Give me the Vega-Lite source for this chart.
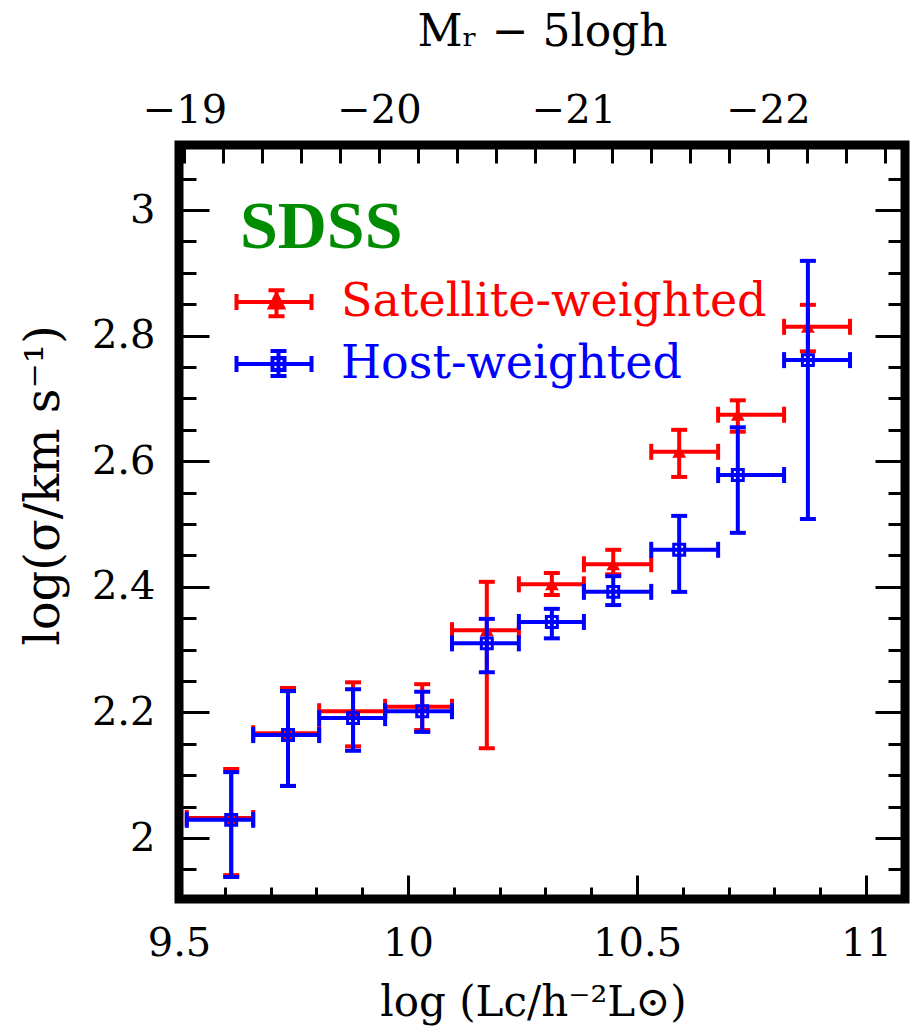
{
  "$schema": "https://vega.github.io/schema/vega-lite/v6.json",
  "autosize": {"type": "none"},
  "padding": {"left": 179, "top": 145, "right": 7, "bottom": 133},
  "width": 726,
  "height": 754,
  "background": "white",
  "datasets": {
    "sigma": [
      {"series": "Satellite-weighted", "logL": 9.614, "logL_lo": 9.517, "logL_hi": 9.662, "logsigma": 2.032, "logsigma_lo": 1.941, "logsigma_hi": 2.110},
      {"series": "Satellite-weighted", "logL": 9.738, "logL_lo": 9.662, "logL_hi": 9.806, "logsigma": 2.167, "logsigma_lo": 2.083, "logsigma_hi": 2.239},
      {"series": "Satellite-weighted", "logL": 9.880, "logL_lo": 9.806, "logL_hi": 9.950, "logsigma": 2.202, "logsigma_lo": 2.146, "logsigma_hi": 2.248},
      {"series": "Satellite-weighted", "logL": 10.031, "logL_lo": 9.950, "logL_hi": 10.096, "logsigma": 2.209, "logsigma_lo": 2.172, "logsigma_hi": 2.245},
      {"series": "Satellite-weighted", "logL": 10.172, "logL_lo": 10.096, "logL_hi": 10.242, "logsigma": 2.331, "logsigma_lo": 2.143, "logsigma_hi": 2.408},
      {"series": "Satellite-weighted", "logL": 10.314, "logL_lo": 10.242, "logL_hi": 10.384, "logsigma": 2.404, "logsigma_lo": 2.387, "logsigma_hi": 2.422},
      {"series": "Satellite-weighted", "logL": 10.448, "logL_lo": 10.384, "logL_hi": 10.531, "logsigma": 2.436, "logsigma_lo": 2.420, "logsigma_hi": 2.459},
      {"series": "Satellite-weighted", "logL": 10.592, "logL_lo": 10.531, "logL_hi": 10.677, "logsigma": 2.615, "logsigma_lo": 2.575, "logsigma_hi": 2.650},
      {"series": "Satellite-weighted", "logL": 10.720, "logL_lo": 10.677, "logL_hi": 10.821, "logsigma": 2.674, "logsigma_lo": 2.647, "logsigma_hi": 2.697},
      {"series": "Satellite-weighted", "logL": 10.873, "logL_lo": 10.821, "logL_hi": 10.965, "logsigma": 2.814, "logsigma_lo": 2.775, "logsigma_hi": 2.849},
      {"series": "Host-weighted", "logL": 9.614, "logL_lo": 9.517, "logL_hi": 9.662, "logsigma": 2.029, "logsigma_lo": 1.938, "logsigma_hi": 2.105},
      {"series": "Host-weighted", "logL": 9.738, "logL_lo": 9.662, "logL_hi": 9.806, "logsigma": 2.164, "logsigma_lo": 2.083, "logsigma_hi": 2.234},
      {"series": "Host-weighted", "logL": 9.880, "logL_lo": 9.806, "logL_hi": 9.950, "logsigma": 2.191, "logsigma_lo": 2.139, "logsigma_hi": 2.237},
      {"series": "Host-weighted", "logL": 10.031, "logL_lo": 9.950, "logL_hi": 10.096, "logsigma": 2.202, "logsigma_lo": 2.169, "logsigma_hi": 2.233},
      {"series": "Host-weighted", "logL": 10.172, "logL_lo": 10.096, "logL_hi": 10.242, "logsigma": 2.310, "logsigma_lo": 2.264, "logsigma_hi": 2.349},
      {"series": "Host-weighted", "logL": 10.314, "logL_lo": 10.242, "logL_hi": 10.384, "logsigma": 2.344, "logsigma_lo": 2.318, "logsigma_hi": 2.365},
      {"series": "Host-weighted", "logL": 10.448, "logL_lo": 10.384, "logL_hi": 10.531, "logsigma": 2.392, "logsigma_lo": 2.371, "logsigma_hi": 2.417},
      {"series": "Host-weighted", "logL": 10.592, "logL_lo": 10.531, "logL_hi": 10.677, "logsigma": 2.459, "logsigma_lo": 2.392, "logsigma_hi": 2.513},
      {"series": "Host-weighted", "logL": 10.720, "logL_lo": 10.677, "logL_hi": 10.821, "logsigma": 2.578, "logsigma_lo": 2.486, "logsigma_hi": 2.654},
      {"series": "Host-weighted", "logL": 10.873, "logL_lo": 10.821, "logL_hi": 10.965, "logsigma": 2.761, "logsigma_lo": 2.508, "logsigma_hi": 2.919}
    ],
    "mag": [{"Mr": -19}, {"Mr": -22}],
    "legend": [{"series": "Satellite-weighted"}, {"series": "Host-weighted"}],
    "note": [{"label": "SDSS"}]
  },
  "config": {
    "font": "DejaVu Serif",
    "view": {"stroke": "black", "strokeWidth": 9},
    "tick": {"opacity": 1},
    "rule": {"opacity": 1},
    "axis": {
      "domain": false, "grid": false,
      "labelFont": "DejaVu Serif", "labelFontSize": 40, "labelColor": "black",
      "labelFlush": false, "labelOverlap": false, "format": "~g",
      "titleFont": "DejaVu Serif", "titleFontWeight": "normal", "titleColor": "black",
      "tickColor": "black", "tickWidth": 3
    }
  },
  "resolve": {"scale": {"x": "independent", "y": "independent"}, "axis": {"x": "independent", "y": "independent"}},
  "layer": [
    {
      "data": {"name": "sigma"},
      "transform": [{"filter": "datum.series === 'Satellite-weighted'"}],
      "mark": {"type": "rule", "color": "#ff0000", "strokeWidth": 4},
      "encoding": {
        "x": {"field": "logL_lo", "type": "quantitative", "scale": {"domain": [9.5, 11.085], "nice": false, "zero": false},
              "axis": {"orient": "bottom", "values": [9.5, 10, 10.5, 11], "ticks": false, "labelPadding": 56, "labelBaseline": "alphabetic",
                       "title": "log (Lc/h⁻²L⊙)", "titleFontSize": 42, "titleBaseline": "alphabetic", "titleY": 116, "titleX": 354}},
        "x2": {"field": "logL_hi"},
        "y": {"field": "logsigma", "type": "quantitative", "scale": {"domain": [1.903, 3.1035], "nice": false, "zero": false},
              "axis": {"orient": "left", "values": [2, 2.2, 2.4, 2.6, 2.8, 3], "ticks": false, "labelPadding": 24,
                       "title": "log(σ/km s⁻¹)", "titleFontSize": 48, "titleAngle": -90, "titleAlign": "center", "titleBaseline": "alphabetic", "titleX": -121, "titleY": 340}}
      }
    },
    {
      "data": {"name": "sigma"},
      "transform": [{"filter": "datum.series === 'Satellite-weighted'"}],
      "mark": {"type": "rule", "color": "#ff0000", "strokeWidth": 4},
      "encoding": {
        "x": {"field": "logL", "type": "quantitative", "scale": {"domain": [9.5, 11.085], "nice": false, "zero": false},
              "axis": {"orient": "bottom", "values": [9.5, 10, 10.5, 11], "labels": false, "tickSize": -24, "title": null}},
        "y": {"field": "logsigma_lo", "type": "quantitative", "scale": {"domain": [1.903, 3.1035], "nice": false, "zero": false},
              "axis": {"orient": "left", "values": [2, 2.2, 2.4, 2.6, 2.8, 3], "labels": false, "tickSize": -30, "title": null}},
        "y2": {"field": "logsigma_hi"}
      }
    },
    {
      "data": {"name": "sigma"},
      "transform": [{"filter": "datum.series === 'Satellite-weighted'"}],
      "mark": {"type": "tick", "orient": "vertical", "color": "#ff0000", "size": 16, "thickness": 4, "opacity": 1},
      "encoding": {
        "x": {"field": "logL_lo", "type": "quantitative", "scale": {"domain": [9.5, 11.085], "nice": false, "zero": false},
              "axis": {"orient": "bottom", "values": [9.6, 9.7, 9.8, 9.9, 10.1, 10.2, 10.3, 10.4, 10.6, 10.7, 10.8, 10.9], "labels": false, "tickSize": -12, "title": null}},
        "y": {"field": "logsigma", "type": "quantitative", "scale": {"domain": [1.903, 3.1035], "nice": false, "zero": false},
              "axis": {"orient": "left", "values": [1.95, 2, 2.05, 2.1, 2.15, 2.2, 2.25, 2.3, 2.35, 2.4, 2.45, 2.5, 2.55, 2.6, 2.65, 2.7, 2.75, 2.8, 2.85, 2.9, 2.95, 3, 3.05, 3.1], "labels": false, "tickSize": -17, "title": null}}
      }
    },
    {
      "data": {"name": "sigma"},
      "transform": [{"filter": "datum.series === 'Satellite-weighted'"}],
      "mark": {"type": "tick", "orient": "vertical", "color": "#ff0000", "size": 16, "thickness": 4, "opacity": 1},
      "encoding": {
        "x": {"field": "logL_hi", "type": "quantitative", "scale": {"domain": [9.5, 11.085], "nice": false, "zero": false}, "axis": null},
        "y": {"field": "logsigma", "type": "quantitative", "scale": {"domain": [1.903, 3.1035], "nice": false, "zero": false},
              "axis": {"orient": "right", "values": [2, 2.2, 2.4, 2.6, 2.8, 3], "labels": false, "tickSize": -30, "title": null}}
      }
    },
    {
      "data": {"name": "sigma"},
      "transform": [{"filter": "datum.series === 'Satellite-weighted'"}],
      "mark": {"type": "tick", "orient": "horizontal", "color": "#ff0000", "size": 16, "thickness": 4, "opacity": 1},
      "encoding": {
        "x": {"field": "logL", "type": "quantitative", "scale": {"domain": [9.5, 11.085], "nice": false, "zero": false}, "axis": null},
        "y": {"field": "logsigma_lo", "type": "quantitative", "scale": {"domain": [1.903, 3.1035], "nice": false, "zero": false},
              "axis": {"orient": "right", "values": [1.95, 2, 2.05, 2.1, 2.15, 2.2, 2.25, 2.3, 2.35, 2.4, 2.45, 2.5, 2.55, 2.6, 2.65, 2.7, 2.75, 2.8, 2.85, 2.9, 2.95, 3, 3.05, 3.1], "labels": false, "tickSize": -17, "title": null}}
      }
    },
    {
      "data": {"name": "sigma"},
      "transform": [{"filter": "datum.series === 'Satellite-weighted'"}],
      "mark": {"type": "tick", "orient": "horizontal", "color": "#ff0000", "size": 16, "thickness": 4, "opacity": 1},
      "encoding": {
        "x": {"field": "logL", "type": "quantitative", "scale": {"domain": [9.5, 11.085], "nice": false, "zero": false}, "axis": null},
        "y": {"field": "logsigma_hi", "type": "quantitative", "scale": {"domain": [1.903, 3.1035], "nice": false, "zero": false}, "axis": null}
      }
    },
    {
      "data": {"name": "sigma"},
      "transform": [{"filter": "datum.series === 'Satellite-weighted'"}],
      "mark": {"type": "point", "shape": "triangle-up", "filled": true, "color": "#ff0000", "size": 190, "opacity": 1},
      "encoding": {
        "x": {"field": "logL", "type": "quantitative", "scale": {"domain": [9.5, 11.085], "nice": false, "zero": false}, "axis": null},
        "y": {"field": "logsigma", "type": "quantitative", "scale": {"domain": [1.903, 3.1035], "nice": false, "zero": false}, "axis": null}
      }
    },
    {
      "data": {"name": "sigma"},
      "transform": [{"filter": "datum.series === 'Host-weighted'"}],
      "mark": {"type": "rule", "color": "#0000ff", "strokeWidth": 4},
      "encoding": {
        "x": {"field": "logL_lo", "type": "quantitative", "scale": {"domain": [9.5, 11.085], "nice": false, "zero": false}, "axis": null},
        "x2": {"field": "logL_hi"},
        "y": {"field": "logsigma", "type": "quantitative", "scale": {"domain": [1.903, 3.1035], "nice": false, "zero": false}, "axis": null}
      }
    },
    {
      "data": {"name": "sigma"},
      "transform": [{"filter": "datum.series === 'Host-weighted'"}],
      "mark": {"type": "rule", "color": "#0000ff", "strokeWidth": 4},
      "encoding": {
        "x": {"field": "logL", "type": "quantitative", "scale": {"domain": [9.5, 11.085], "nice": false, "zero": false}, "axis": null},
        "y": {"field": "logsigma_lo", "type": "quantitative", "scale": {"domain": [1.903, 3.1035], "nice": false, "zero": false}, "axis": null},
        "y2": {"field": "logsigma_hi"}
      }
    },
    {
      "data": {"name": "sigma"},
      "transform": [{"filter": "datum.series === 'Host-weighted'"}],
      "mark": {"type": "tick", "orient": "vertical", "color": "#0000ff", "size": 16, "thickness": 4, "opacity": 1},
      "encoding": {
        "x": {"field": "logL_lo", "type": "quantitative", "scale": {"domain": [9.5, 11.085], "nice": false, "zero": false}, "axis": null},
        "y": {"field": "logsigma", "type": "quantitative", "scale": {"domain": [1.903, 3.1035], "nice": false, "zero": false}, "axis": null}
      }
    },
    {
      "data": {"name": "sigma"},
      "transform": [{"filter": "datum.series === 'Host-weighted'"}],
      "mark": {"type": "tick", "orient": "vertical", "color": "#0000ff", "size": 16, "thickness": 4, "opacity": 1},
      "encoding": {
        "x": {"field": "logL_hi", "type": "quantitative", "scale": {"domain": [9.5, 11.085], "nice": false, "zero": false}, "axis": null},
        "y": {"field": "logsigma", "type": "quantitative", "scale": {"domain": [1.903, 3.1035], "nice": false, "zero": false}, "axis": null}
      }
    },
    {
      "data": {"name": "sigma"},
      "transform": [{"filter": "datum.series === 'Host-weighted'"}],
      "mark": {"type": "tick", "orient": "horizontal", "color": "#0000ff", "size": 16, "thickness": 4, "opacity": 1},
      "encoding": {
        "x": {"field": "logL", "type": "quantitative", "scale": {"domain": [9.5, 11.085], "nice": false, "zero": false}, "axis": null},
        "y": {"field": "logsigma_lo", "type": "quantitative", "scale": {"domain": [1.903, 3.1035], "nice": false, "zero": false}, "axis": null}
      }
    },
    {
      "data": {"name": "sigma"},
      "transform": [{"filter": "datum.series === 'Host-weighted'"}],
      "mark": {"type": "tick", "orient": "horizontal", "color": "#0000ff", "size": 16, "thickness": 4, "opacity": 1},
      "encoding": {
        "x": {"field": "logL", "type": "quantitative", "scale": {"domain": [9.5, 11.085], "nice": false, "zero": false}, "axis": null},
        "y": {"field": "logsigma_hi", "type": "quantitative", "scale": {"domain": [1.903, 3.1035], "nice": false, "zero": false}, "axis": null}
      }
    },
    {
      "data": {"name": "sigma"},
      "transform": [{"filter": "datum.series === 'Host-weighted'"}],
      "mark": {"type": "point", "shape": "square", "filled": false, "color": "#0000ff", "size": 120, "strokeWidth": 3, "opacity": 1},
      "encoding": {
        "x": {"field": "logL", "type": "quantitative", "scale": {"domain": [9.5, 11.085], "nice": false, "zero": false}, "axis": null},
        "y": {"field": "logsigma", "type": "quantitative", "scale": {"domain": [1.903, 3.1035], "nice": false, "zero": false}, "axis": null}
      }
    },
    {
      "data": {"name": "mag"},
      "mark": {"type": "point", "opacity": 0},
      "encoding": {
        "x": {"field": "Mr", "type": "quantitative", "scale": {"domain": [-22.704, -18.972], "reverse": true, "nice": false, "zero": false},
              "axis": {"orient": "top", "values": [-19, -20, -21, -22], "ticks": false, "labelPadding": 23, "labelBaseline": "alphabetic",
                       "title": "Mᵣ − 5logh", "titleFontSize": 44, "titleBaseline": "alphabetic", "titleY": -100}}
      }
    },
    {
      "data": {"name": "mag"},
      "mark": {"type": "point", "opacity": 0},
      "encoding": {
        "x": {"field": "Mr", "type": "quantitative", "scale": {"domain": [-22.704, -18.972], "reverse": true, "nice": false, "zero": false},
              "axis": {"orient": "top", "values": [-19, -19.2, -19.4, -19.6, -19.8, -20, -20.2, -20.4, -20.6, -20.8, -21, -21.2, -21.4, -21.6, -21.8, -22, -22.2, -22.4, -22.6], "labels": false, "tickSize": -18, "title": null}}
      }
    },
    {
      "data": {"name": "legend"},
      "mark": {"type": "point", "opacity": 0, "filled": false},
      "encoding": {
        "shape": {"field": "series", "type": "nominal",
                  "scale": {"domain": ["Satellite-weighted", "Host-weighted"],
                            "range": ["M-1.5,0H1.5M-1.5,-0.32V0.32M1.5,-0.32V0.32M0.1,-0.47V0.57M-0.22,-0.47H0.42M-0.22,0.57H0.42M-0.16,0.22L0.36,0.22L0.1,-0.3ZM-0.02,0.13L0.22,0.13L0.1,-0.1Z",
                                      "M-1.5,0H1.5M-1.5,-0.32V0.32M1.5,-0.32V0.32M0.18,-0.52V0.48M-0.14,-0.52H0.5M-0.14,0.48H0.5M-0.06,-0.24H0.42V0.24H-0.06Z"]},
                  "legend": {"title": null, "orient": "none", "legendX": 68, "legendY": 130, "symbolSize": 2500, "symbolStrokeWidth": 4,
                             "symbolStrokeColor": {"expr": "datum.value === 'Satellite-weighted' ? '#ff0000' : '#0000ff'"},
                             "symbolOpacity": 1,
                             "labelColor": {"expr": "datum.value === 'Satellite-weighted' ? '#ff0000' : '#0000ff'"},
                             "labelFont": "DejaVu Serif", "labelFontSize": 46, "labelOffset": 40, "labelLimit": 800, "rowPadding": 12}}
      }
    },
    {
      "data": {"name": "note"},
      "mark": {"type": "text", "font": "Liberation Serif", "fontWeight": "bold", "fontSize": 68, "color": "#008c00", "align": "left", "baseline": "alphabetic"},
      "encoding": {
        "text": {"field": "label"},
        "x": {"datum": 9.633, "type": "quantitative", "scale": {"domain": [9.5, 11.085], "nice": false, "zero": false}, "axis": null},
        "y": {"datum": 2.9395, "type": "quantitative", "scale": {"domain": [1.903, 3.1035], "nice": false, "zero": false}, "axis": null}
      }
    }
  ]
}
